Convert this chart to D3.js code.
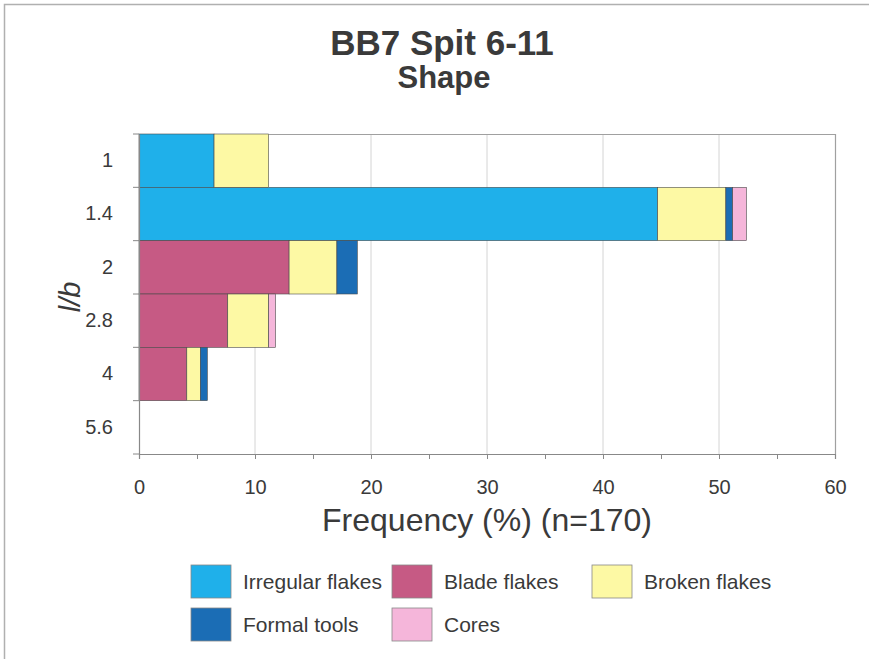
<!DOCTYPE html>
<html>
<head>
<meta charset="utf-8">
<script src="https://cdn.jsdelivr.net/npm/d3@7"></script>
<style>
  html, body { margin: 0; padding: 0; background: #fff; }
  svg { display: block; font-family: "Liberation Sans", Arial, sans-serif; }
</style>
</head>
<body>
<svg id="chart" width="869" height="659"></svg>
<script>
// ---- data (percent of n=170) ----
const categories = ["1", "1.4", "2", "2.8", "4", "5.6"];
const seriesNames = ["Irregular flakes", "Blade flakes", "Broken flakes", "Formal tools", "Cores"];
const irregular = [6.47, 44.71, 0, 0, 0, 0];
const blade     = [0, 0, 12.94, 7.65, 4.12, 0];
const broken    = [4.71, 5.88, 4.12, 3.53, 1.18, 0];
const formal    = [0, 0.59, 1.76, 0, 0.59, 0];
const cores     = [0, 1.18, 0, 0.59, 0, 0];
const xTicks = [0, 10, 20, 30, 40, 50, 60];
const colors = ["#1fb0ea", "#c65a84", "#fdf9a4", "#1b6db5", "#f5b6da"];

(function () {
const seriesValues = [irregular, blade, broken, formal, cores];
const rows = categories.map((c, i) => {
  const r = { cat: c };
  seriesNames.forEach((s, j) => r[s] = seriesValues[j][i]);
  return r;
});

const svg = d3.select("#chart");
const textCol = "#3a3a3a";
const ff = "'Liberation Sans', Arial, sans-serif";

// outer frame
svg.append("rect").attr("x", 4.5).attr("y", 4.5).attr("width", 900).attr("height", 700)
  .attr("fill", "none").attr("stroke", "#b0b0b0").attr("stroke-width", 1.5);

const pL = 139, pR = 835, pT = 134, pB = 454;
const x = d3.scaleLinear().domain([0, 60]).range([pL, pR]);
const y = d3.scaleBand().domain(categories).range([pT, pB]).padding(0);

// gridlines
svg.append("g").selectAll("line").data(xTicks.filter(t => t > 0 && t < 60)).join("line")
  .attr("x1", d => x(d)).attr("x2", d => x(d)).attr("y1", pT).attr("y2", pB)
  .attr("stroke", "#d4d4d4").attr("stroke-width", 1);
// top / right border
svg.append("path")
  .attr("d", `M${pL},${pT + 0.5}H${pR + 0.5}V${pB}`)
  .attr("fill", "none").attr("stroke", "#a0a0a0").attr("stroke-width", 1.2);

// bars
const stack = d3.stack().keys(seriesNames);
const stacked = stack(rows);
svg.append("g").selectAll("g").data(stacked).join("g")
  .attr("fill", (d, i) => colors[i])
  .selectAll("rect").data(d => d.filter(p => p[1] - p[0] > 0)).join("rect")
  .attr("x", d => x(d[0])).attr("width", d => x(d[1]) - x(d[0]))
  .attr("y", d => y(d.data.cat)).attr("height", y.bandwidth())
  .attr("stroke", "#4a4a4a").attr("stroke-width", 0.6);

// x axis
const xAxis = d3.axisBottom(x).tickValues(d3.range(0, 61, 5)).tickSize(5)
  .tickFormat(d => xTicks.includes(d) ? d : "");
const gx = svg.append("g").attr("transform", `translate(0,${pB})`).call(xAxis);
gx.select(".domain").attr("stroke", "#888").attr("stroke-width", 1.2);
gx.selectAll(".tick line").attr("stroke", "#888");
gx.selectAll(".tick text").attr("fill", textCol).attr("y", 26)
  .style("font-size", "20px").style("font-family", ff);

// y axis
const gy = svg.append("g").attr("transform", `translate(${pL},0)`)
  .call(d3.axisLeft(y).tickSize(0).tickPadding(26));
gy.select(".domain").attr("stroke", "#888").attr("stroke-width", 1.2);
gy.selectAll(".tick text").attr("fill", textCol).style("font-size", "20px")
  .style("font-family", ff);
// band boundary ticks
svg.append("g").selectAll("line").data(categories.map(c => y(c)).concat([pB])).join("line")
  .attr("x1", pL - 6).attr("x2", pL).attr("y1", d => d).attr("y2", d => d)
  .attr("stroke", "#888");

// titles
svg.append("text").attr("x", 442).attr("y", 55).attr("text-anchor", "middle")
  .attr("fill", textCol).style("font-size", "35px").style("font-weight", "bold").text("BB7 Spit 6-11");
svg.append("text").attr("x", 444).attr("y", 88).attr("text-anchor", "middle")
  .attr("fill", textCol).style("font-size", "31px").style("font-weight", "bold").text("Shape");

svg.append("text").attr("x", (pL + pR) / 2).attr("y", 531).attr("text-anchor", "middle")
  .attr("fill", textCol).style("font-size", "32px").text("Frequency (%) (n=170)");

svg.append("text").attr("transform", "translate(80,297) rotate(-90)").attr("text-anchor", "middle")
  .attr("fill", textCol).style("font-size", "29px").style("font-style", "italic").text("l/b");

// legend
const legendPos = [
  { x: 191, y: 565 }, { x: 392, y: 565 }, { x: 592, y: 565 },
  { x: 191, y: 608 }, { x: 392, y: 608 }
];
const lg = svg.append("g").selectAll("g").data(seriesNames).join("g")
  .attr("transform", (d, i) => `translate(${legendPos[i].x},${legendPos[i].y})`);
lg.append("rect").attr("width", 40).attr("height", 33)
  .attr("fill", (d, i) => colors[i]).attr("stroke", "#888").attr("stroke-width", 0.8);
lg.append("text").attr("x", 52).attr("y", 24).attr("fill", textCol)
  .style("font-size", "21px").text(d => d);
})();
</script>
</body>
</html>
